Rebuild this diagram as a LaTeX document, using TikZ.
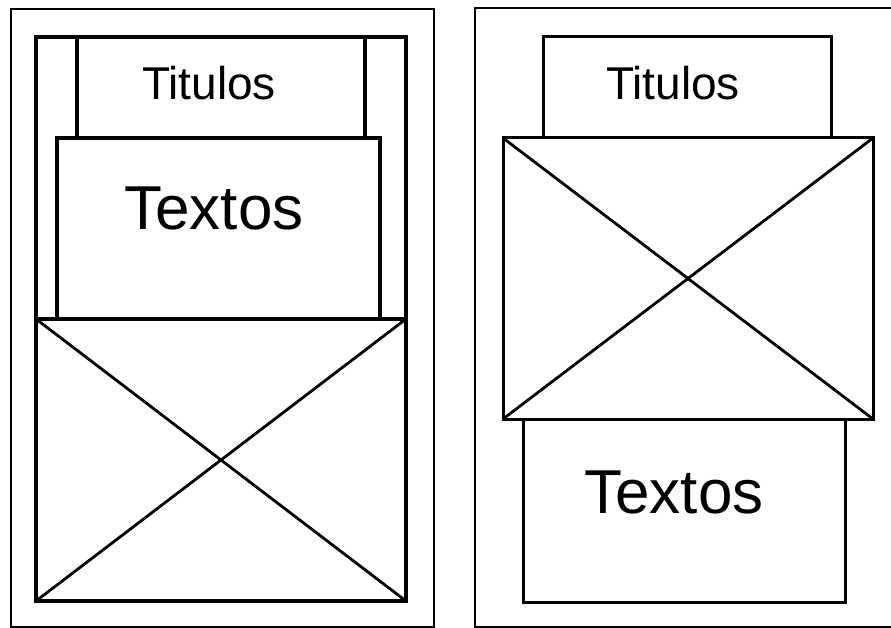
\documentclass[tikz,border=0pt]{standalone}
\usepackage{fontspec}
\setmainfont{Liberation Sans}
\usetikzlibrary{positioning}

\begin{document}
\begin{tikzpicture}[x=1pt,y=-1pt,
  marco/.style={line width=2pt},
  grueso/.style={line width=4pt},
  fino/.style={line width=3pt},
  cruz/.style={line width=2.8pt},
  titulo/.style={font=\fontsize{46}{50}\selectfont, anchor=base, inner sep=0pt},
  texto/.style={font=\fontsize{62}{66}\selectfont, anchor=base, inner sep=0pt}]
  \useasboundingbox (0,0) rectangle (891,628);
  % pagina izquierda: titulos y textos arriba, imagen abajo
  \draw[marco] (11,9) rectangle (434,627);
  \draw[grueso] (36,37) rectangle (406,601);
  \draw[grueso] (77,37) -- (77,138);
  \draw[grueso] (365,37) -- (365,138);
  \draw[grueso] (57,319) -- (57,138) -- (380,138) -- (380,319);
  \coordinate (imgIzqNO) at (36,319);
  \coordinate (imgIzqNE) at (406,319);
  \coordinate (imgIzqSO) at (36,601);
  \coordinate (imgIzqSE) at (406,601);
  \draw[grueso] (imgIzqNO) -- (imgIzqNE);
  \draw[cruz] (imgIzqNO) -- (imgIzqSE);
  \draw[cruz] (imgIzqSO) -- (imgIzqNE);
  \node[titulo] (titIzq) at (209,100) {Titulos};
  \node[texto] (texIzq) at (214,230) {Textos};
  % pagina derecha: titulos, imagen y textos abajo
  \draw[marco] (475,8) rectangle (900,627);
  \draw[fino] (543,37) rectangle (831,138);
  \coordinate (imgDerNO) at (503,138);
  \coordinate (imgDerNE) at (873,138);
  \coordinate (imgDerSO) at (503,419);
  \coordinate (imgDerSE) at (873,419);
  \draw[fino] (imgDerNO) rectangle (imgDerSE);
  \draw[cruz] (imgDerNO) -- (imgDerSE);
  \draw[cruz] (imgDerSO) -- (imgDerNE);
  \draw[fino] (523,419) rectangle (845,602);
  \node[titulo] (titDer) at (673,100) {Titulos};
  \node[texto] (texDer) at (674,513) {Textos};
\end{tikzpicture}
\end{document}
